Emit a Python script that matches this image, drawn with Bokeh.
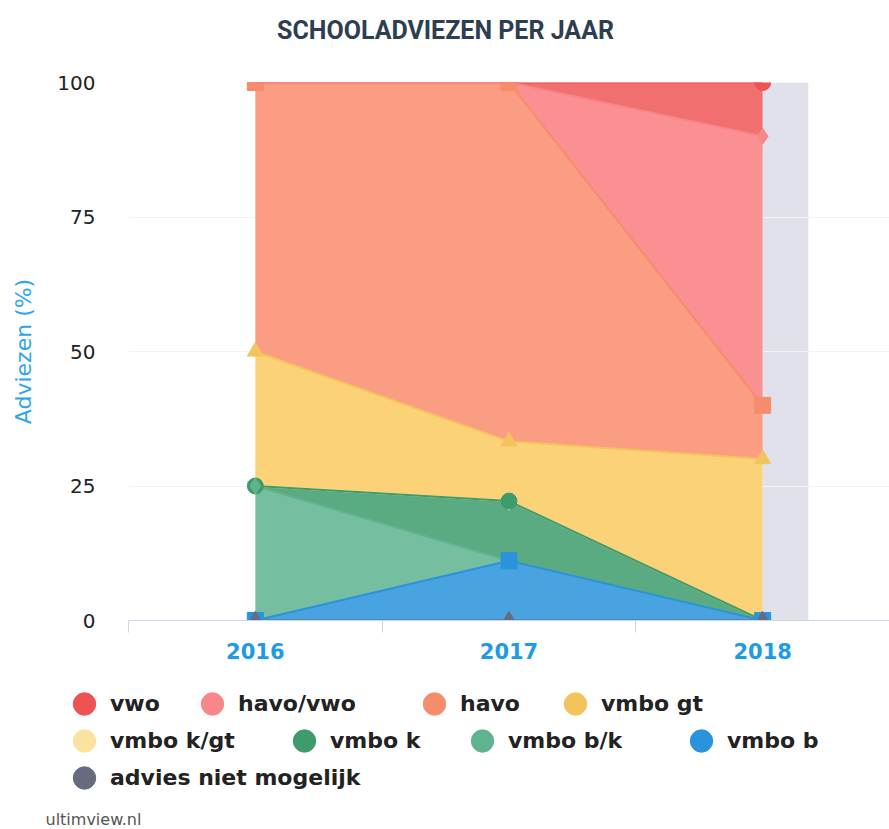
import numpy as np
from bokeh.plotting import figure
from bokeh.layouts import column
from bokeh.models import (FixedTicker, Legend, LegendItem, BoxAnnotation, Range1d, Label)
from bokeh.embed import file_html
from bokeh.resources import INLINE

# ---------------- data ----------------
years = ["2016", "2017", "2018"]
series_names = ["vwo", "havo/vwo", "havo", "vmbo gt", "vmbo k/gt",
                "vmbo k", "vmbo b/k", "vmbo b", "advies niet mogelijk"]
vwo = [0.0, 0.0, 10.0]
havo_vwo = [0.0, 0.0, 50.0]
havo = [50.0, 66.7, 10.0]
vmbo_gt = [25.0, 11.1, 30.0]
vmbo_kgt = [0.0, 0.0, 0.0]
vmbo_k = [0.0, 11.1, 0.0]
vmbo_bk = [25.0, 0.0, 0.0]
vmbo_b = [0.0, 11.1, 0.0]
advies = [0.0, 0.0, 0.0]
y_ticks = [0, 25, 50, 75, 100]
title_text = "SCHOOLADVIEZEN PER JAAR"
y_title = "Adviezen (%)"
credits_text = "ultimview.nl"

series_values = [vwo, havo_vwo, havo, vmbo_gt, vmbo_kgt, vmbo_k, vmbo_bk, vmbo_b, advies]

# ---------------- styles ----------------
colors = ["#ee5252", "#f9868a", "#f78c6c", "#f3c45e", "#fbe39f",
          "#3e9b6b", "#5fb48f", "#2a93dc", "#676b80"]
fills = ["#f26f6f", "#fb9092", "#fa9d82", "#fcd279", "#fde9b2",
         "#5aab82", "#76bea0", "#4aa3e1", "#8a8d9c"]
markers = ["circle", "diamond", "square", "triangle", "inverted_triangle",
           "circle", "diamond", "square", "triangle"]

W = 889
TOP_H, MAIN_H, LEG_H = 50, 630, 149

x = np.arange(len(years), dtype=float)
n = len(series_names)
bottoms = [None] * n
tops = [None] * n
base = np.zeros(len(years))
for i in reversed(range(n)):
    bottoms[i] = base.copy()
    base = base + np.array(series_values[i], dtype=float)
    tops[i] = base.copy()

# ---------------- title strip ----------------
pt = figure(width=W, height=TOP_H, output_backend="svg", toolbar_location=None,
            x_axis_type=None, y_axis_type=None, x_range=Range1d(0, 1), y_range=Range1d(0, 1),
            min_border=0)
pt.frame_align = False
pt.outline_line_color = None
pt.grid.visible = False
pt.add_layout(Label(x=445, y=TOP_H - 30, x_units="screen", y_units="screen", text=title_text,
                    text_align="center", text_baseline="middle", text_font="Roboto",
                    text_font_style="bold", text_font_size="25px", text_color="#2d3e50"))

# ---------------- main chart ----------------
p = figure(width=W, height=MAIN_H, output_backend="svg", toolbar_location=None,
           x_range=Range1d(-0.5, 2.5), y_range=Range1d(0, 100),
           min_border_left=128, min_border_right=0, min_border_top=32,
           min_border_bottom=60)
p.frame_align = False
p.outline_line_color = None
p.background_fill_color = "white"
p.border_fill_color = "white"

band = BoxAnnotation(left=x[-1], right=x[-1] + 0.18, bottom=0, top=100,
                     fill_color="#e1e1ec", fill_alpha=1, line_color=None, level="image")
p.add_layout(band)

for i in range(n):
    p.varea(x=x, y1=bottoms[i], y2=tops[i], fill_color=fills[i], fill_alpha=1)
for i in range(n):
    p.line(x, tops[i], line_color=colors[i], line_width=2)
for i in range(n):
    p.scatter(x, tops[i], marker=markers[i], size=16, fill_color=colors[i],
              line_color=colors[i])

p.xgrid.grid_line_color = None
p.ygrid.grid_line_color = "#f3f3f6"
p.ygrid.ticker = FixedTicker(ticks=y_ticks)

p.xaxis.ticker = FixedTicker(ticks=list(x), minor_ticks=list(np.arange(-0.5, len(years), 1.0)))
p.xaxis.major_label_overrides = {float(i): y for i, y in enumerate(years)}
p.xaxis.axis_line_color = "#ccd6eb"
p.xaxis.major_tick_line_color = None
p.xaxis.major_tick_out = 0
p.xaxis.major_tick_in = 0
p.xaxis.minor_tick_line_color = "#ccd6eb"
p.xaxis.minor_tick_out = 12
p.xaxis.minor_tick_in = 0
p.xaxis.major_label_standoff = 10
p.xaxis.major_label_text_font = "DejaVu Sans"
p.xaxis.major_label_text_font_style = "bold"
p.xaxis.major_label_text_font_size = "21px"
p.xaxis.major_label_text_color = "#1f9be6"

p.yaxis.ticker = FixedTicker(ticks=y_ticks)
p.yaxis.axis_line_color = None
p.yaxis.major_tick_line_color = None
p.yaxis.minor_tick_line_color = None
p.yaxis.major_tick_out = 0
p.yaxis.major_label_standoff = 33
p.yaxis.major_label_text_font = "DejaVu Sans"
p.yaxis.major_label_text_font_size = "20px"
p.yaxis.major_label_text_color = "#222222"
p.yaxis.axis_label = y_title
p.yaxis.axis_label_text_font = "DejaVu Sans"
p.yaxis.axis_label_text_font_style = "normal"
p.yaxis.axis_label_text_font_size = "22px"
p.yaxis.axis_label_text_color = "#2ea5ea"
p.yaxis.axis_label_standoff = 18

# ---------------- legend strip ----------------
pl = figure(width=W, height=LEG_H, output_backend="svg", toolbar_location=None,
            x_axis_type=None, y_axis_type=None, x_range=Range1d(0, 1), y_range=Range1d(0, 1),
            min_border=0)
pl.frame_align = False
pl.outline_line_color = None
pl.grid.visible = False

dummies = []
for i in range(n):
    r = pl.ellipse(x=[-10.0], y=[-10.0], width=20, height=20,
                   width_units="screen", height_units="screen",
                   fill_color=colors[i], line_color=colors[i])
    dummies.append(r)

# legend layout (flowing rows): circle centre x, row index
legend_cx = [88, 216, 438, 579, 88, 308, 486, 705, 88]
legend_row = [0, 0, 0, 0, 1, 1, 1, 1, 2]
row_cy = [699, 736, 773]          # canvas y of each row centre
leg_top = TOP_H + MAIN_H
item_h = 29 + 2 * 4
for i in range(n):
    cy_local = row_cy[legend_row[i]] - leg_top
    vy = LEG_H - cy_local - item_h / 2
    leg = Legend(items=[LegendItem(label=series_names[i], renderers=[dummies[i]])],
                 location=(legend_cx[i] - 18, vy), orientation="horizontal",
                 glyph_width=28, glyph_height=29, label_standoff=12,
                 padding=4, margin=0, border_line_color=None, background_fill_alpha=0,
                 label_text_font="DejaVu Sans", label_text_font_style="bold",
                 label_text_font_size="22px", label_text_color="#222222")
    pl.add_layout(leg)

pl.add_layout(Label(x=45, y=LEG_H - (819 - leg_top), x_units="screen", y_units="screen",
                    text=credits_text, text_align="left", text_baseline="middle",
                    text_font="DejaVu Sans", text_font_size="16px", text_color="#555555"))

layout = column(pt, p, pl, spacing=0)
open("out.html", "w").write(file_html(layout, INLINE))
